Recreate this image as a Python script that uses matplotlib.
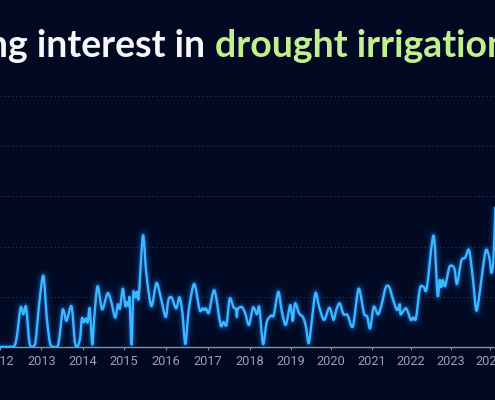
import matplotlib
matplotlib.use("Agg")
import matplotlib.pyplot as plt
from matplotlib.patches import PathPatch
from matplotlib.path import Path
import numpy as np

# decimal year, search interest (0-100)
years = [2012.00, 2012.32, 2012.40, 2012.50, 2012.565, 2012.63, 2012.71, 2012.77, 2012.855, 2012.95,
         2013.05, 2013.13, 2013.21, 2013.29, 2013.39, 2013.45, 2013.51, 2013.55, 2013.61, 2013.73,
         2013.81, 2013.87, 2013.935, 2013.98,
         2014.03, 2014.08, 2014.12, 2014.17, 2014.23, 2014.28, 2014.36, 2014.47, 2014.60, 2014.69,
         2014.785, 2014.85, 2014.90, 2014.97,
         2015.03, 2015.07, 2015.11, 2015.13, 2015.18, 2015.22, 2015.27, 2015.31, 2015.35, 2015.45,
         2015.53, 2015.65, 2015.77, 2015.87, 2015.99,
         2016.055, 2016.13, 2016.24, 2016.32, 2016.39, 2016.46, 2016.54, 2016.67, 2016.80, 2016.87,
         2016.91, 2016.95,
         2017.02, 2017.15, 2017.30, 2017.37, 2017.44, 2017.52, 2017.61, 2017.67, 2017.69, 2017.71,
         2017.81, 2017.89, 2017.98,
         2018.08, 2018.17, 2018.23, 2018.32, 2018.41, 2018.52, 2018.58, 2018.69, 2018.77, 2018.87,
         2018.98,
         2019.04, 2019.10, 2019.20, 2019.30, 2019.37, 2019.44, 2019.52, 2019.61, 2019.70, 2019.82,
         2019.94, 2019.99,
         2020.06, 2020.13, 2020.21, 2020.30, 2020.40, 2020.53, 2020.67, 2020.80, 2020.88, 2020.95,
         2021.04, 2021.15, 2021.24, 2021.35, 2021.44, 2021.54, 2021.64, 2021.71, 2021.73, 2021.87,
         2021.99,
         2022.05, 2022.12, 2022.22, 2022.31, 2022.39, 2022.56, 2022.66, 2022.71, 2022.75, 2022.79,
         2022.85, 2022.96,
         2023.08, 2023.15, 2023.26, 2023.36, 2023.46, 2023.56, 2023.64, 2023.71, 2023.88, 2023.98,
         2024.03, 2024.08, 2024.13]
interest = [0, 0.1, 3.5, 15.7, 13, 16, 2, 0, 1.5, 17.4,
            28.4, 12, 1.5, 0, 0, 5.4, 14.5, 14, 10.4, 16.2,
            2, 0, 3.5, 11.4,
            9.8, 11.4, 9.8, 15.3, 1, 12, 24.2, 15, 21.4, 18,
            11.7, 17, 15.3, 23.2,
            16.3, 18, 16.3, 19.4, 1, 21.4, 19.8, 22, 19.8, 44.4,
            29.3, 16.3, 25.5, 20, 12,
            18.7, 19.8, 15.4, 19.8, 13.4, 1.2, 14.7, 25.1, 14.7, 15.4,
            14.7, 15.4,
            13.7, 22.6, 8.8, 10, 8.8, 19.3, 15.8, 15.1, 12, 15.1,
            15.9, 13.4, 8.8,
            15.8, 13, 15.8, 1.2, 10, 12.5, 12.7, 22, 14.7, 8.8,
            16.7,
            10.4, 17.4, 13.4, 11.8, 8.1, 1.5, 10.8, 21.6, 16, 10.8,
            15.4, 14.7,
            10.8, 15, 17.4, 13.1, 12.7, 8.2, 23.2, 13.4, 12.1, 7.4,
            16, 13, 16.7, 23.8, 23.8, 18.7, 14.7, 17, 13, 15.4,
            10.8,
            11.8, 11.4, 23.4, 24, 23.4, 44.4, 20.7, 26.7, 23.8, 26.7,
            24.3, 32,
            31.3, 25.1, 34.4, 35.6, 38.6, 26.7, 14.7, 19.4, 38.1, 35.3,
            29.6, 34.7, 56]
tick_years = [2012, 2013, 2014, 2015, 2016, 2017, 2018, 2019, 2020, 2021, 2022, 2023, 2024]
tick_labels = ["2012", "2013", "2014", "2015", "2016", "2017", "2018", "2019", "2020", "2021", "2022", "2023", "2024"]
grid_vals = [20, 40, 60, 80, 100]
# the year axis is not quite even in the source
axis_years = [2011.5, 2012, 2013, 2014, 2015, 2016, 2017, 2018, 2019, 2020, 2021, 2022, 2023, 2024, 2025]
axis_pos = [-20.6, 0, 41.3, 82.7, 124, 166, 208, 249.7, 291, 331, 372, 411, 451, 490, 530]

bg = "#010a22"
line_col = "#3cb8ff"


def smooth_path(xs, ys, k=1 / 7):
    # curve through the points, control handles kept above the baseline
    xs, ys = np.asarray(xs), np.asarray(ys)
    verts = [(xs[0], ys[0])]
    codes = [Path.MOVETO]
    n = len(xs)
    for i in range(n - 1):
        a, b = max(i - 1, 0), min(i + 2, n - 1)
        c1 = (xs[i] + (xs[i + 1] - xs[a]) * k, max(ys[i] + (ys[i + 1] - ys[a]) * k, 0))
        c2 = (xs[i + 1] - (xs[b] - xs[i]) * k, max(ys[i + 1] - (ys[b] - ys[i]) * k, 0))
        verts += [c1, c2, (xs[i + 1], ys[i + 1])]
        codes += [Path.CURVE4] * 3
    return Path(verts, codes)


fig = plt.figure(figsize=(4.95, 4.0), dpi=100, facecolor=bg)
ax = fig.add_axes([0, 53 / 400, 1, 251 / 400], facecolor=bg)
ax.set_xscale("function", functions=(lambda v: np.interp(v, axis_years, axis_pos),
                                     lambda v: np.interp(v, axis_pos, axis_years)))
ax.set_xlim(2012, 2024.12)
ax.set_ylim(0, 100)

for v in grid_vals:
    ax.axhline(v, color="#33405e", lw=0.7, ls=(0, (1, 3)), zorder=1)

path = smooth_path(years, interest)
# glow
for lw, a in [(11, 0.04), (8, 0.06), (5.5, 0.10), (3.6, 0.22)]:
    ax.add_patch(PathPatch(path, fill=False, ec="#1a78ff", lw=lw, alpha=a, joinstyle="round", zorder=2))
ax.add_patch(PathPatch(path, fill=False, ec=line_col, lw=1.7, joinstyle="round", zorder=3))

ax.set_xticks(tick_years)
ax.set_xticklabels(tick_labels, family="Roboto", fontsize=9.2, color="#9aa0b8")
ax.set_yticks([])
ax.tick_params(axis="x", length=2.2, width=0.8, color="#8a8fa5", pad=3.5)
for s in ["top", "left", "right"]:
    ax.spines[s].set_visible(False)
ax.spines["bottom"].set_color("#8a8fa5")
ax.spines["bottom"].set_linewidth(1)

fig.text(205 / 495, 1 - 57 / 400, "Surging interest in", ha="right", va="baseline",
         family="Lato", fontweight="bold", fontsize=27, color="#f7f7fa")
fig.text(215 / 495, 1 - 57 / 400, "drought irrigation", ha="left", va="baseline",
         family="Lato", fontweight="bold", fontsize=27, color="#c3f08f")

fig.savefig("out.png", dpi=100, facecolor=bg)
